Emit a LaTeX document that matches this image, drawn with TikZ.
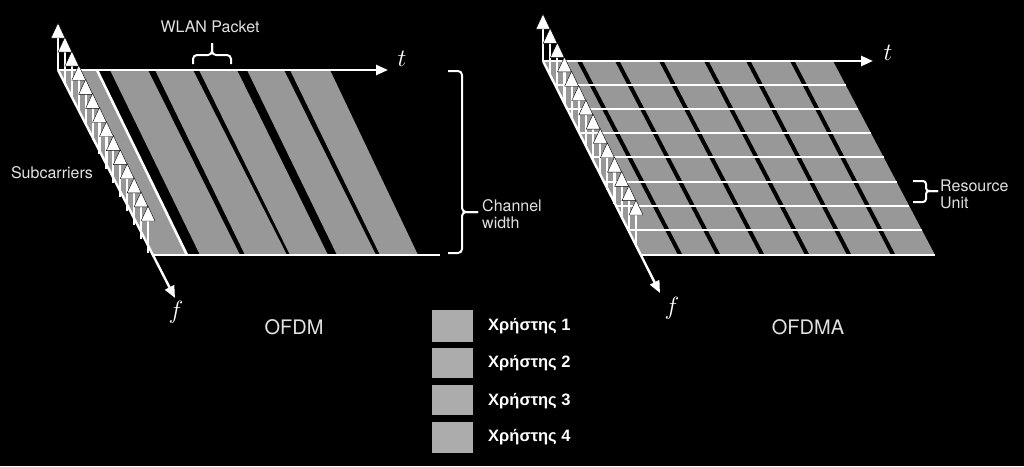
\documentclass[tikz,border=0pt]{standalone}
\usepackage{fontspec}
\setsansfont{TeX Gyre Heros}
\newfontfamily\legfont{Liberation Sans}
\usetikzlibrary{arrows.meta,calc}
\definecolor{bandgray}{RGB}{152,152,152}
\definecolor{leggray}{RGB}{172,172,172}
\definecolor{labgray}{RGB}{225,225,225}
\begin{document}
\begin{tikzpicture}[x=1pt,y=-1pt,
 axis/.style={white,line width=2.4pt,-{Triangle[width=10pt,length=12pt]}},
 wline/.style={white,line width=2.6pt},
 band/.style={fill=bandgray},
 stripe/.style={fill=black},
 lab/.style={text=labgray,font=\sffamily\fontsize{16}{18}\selectfont,inner sep=0pt},
 bigl/.style={text=labgray,font=\sffamily\fontsize{20}{22}\selectfont,inner sep=0pt},
 mathl/.style={text=white,font=\fontsize{28}{30}\selectfont,inner sep=0pt},
 brace/.style={white,line width=2pt,rounded corners=4pt},
 leg/.style={text=white,font=\legfont\bfseries\fontsize{16.5}{18}\selectfont,anchor=west,inner sep=0pt},
 sq/.style={fill=leggray},
 scshaft/.style={white,line width=2.2pt},
 schead/.style={fill=white,draw=black,line width=0.4pt}]
\fill[black] (0,0) rectangle (1024,466);
\useasboundingbox (0,0) rectangle (1024,466);

% ---------------- OFDM (left) ----------------
\coordinate (O1) at (58,70);
\coordinate (T1) at (388,70);
\coordinate (F1) at (175,298);
\coordinate (BL1) at (152,255);
\coordinate (BR1) at (440,255);
\fill[band] (58,70) -- (97,70) -- (187,255) -- (152,255) -- cycle;
\fill[band] (110,70) -- (148,70) -- (240,255) -- (200,255) -- cycle;
\fill[band] (155,70) -- (193,70) -- (287,255) -- (245,255) -- cycle;
\fill[band] (199,70) -- (237,70) -- (328,255) -- (290,255) -- cycle;
\fill[band] (247,70) -- (284,70) -- (376,255) -- (337,255) -- cycle;
\fill[band] (290,70) -- (330,70) -- (418,255) -- (380,255) -- cycle;
\coordinate (W1a) at (97,70);
\coordinate (W1b) at (187,255);
\draw[wline] (W1a) -- (W1b);
\draw[wline] (BL1) -- (BR1);
\draw[axis] (O1) -- (T1);
\draw[axis] (O1) -- (F1);
\foreach \k in {0,...,13} {
  \pgfmathsetmacro\bx{58+\k*90/13}
  \pgfmathsetmacro\by{70+\k*183/13}
  \draw[scshaft] (\bx,\by) -- (\bx,\by-33);
  \filldraw[schead] (\bx-7,\by-32) -- (\bx,\by-47) -- (\bx+7,\by-32) -- cycle;
}
\node[mathl] (tl) at (402,59) {$t$};
\node[mathl] (fl) at (176,312) {$f$};
\node[lab] (wlan) at (210,27) {WLAN Packet};
\node[lab] (subc) at (52,173) {Subcarriers};
\draw[brace] (193,64) -- (193,55) -- (212,55) -- (212,43);
\draw[brace] (231,64) -- (231,55) -- (212,55) -- (212,43);
\draw[brace] (448,71) -- (462,71) -- (462,212) -- (478,212);
\draw[brace] (448,253) -- (462,253) -- (462,212) -- (478,212);
\node[lab,anchor=west,align=left] (chw) at (482,214) {Channel\\[-1pt]width};
\node[bigl] (ofdm) at (294,327) {OFDM};

% ---------------- OFDMA (right) ----------------
\coordinate (O2) at (543,61);
\coordinate (T2) at (873,61);
\coordinate (F2) at (660,293);
\fill[band] (543,61) -- (833,61) -- (935,255) -- (640,255) -- cycle;
\foreach \c in {579,617,661,706,748,792} {
  \fill[stripe] (\c-2,61) -- (\c+2.5,61) -- (\c+103.5,255) -- (\c+99,255) -- cycle;
}
\foreach \yy in {85,109,133,157,182,206,230,255} {
  \draw[wline] ({543+0.5*(\yy-61)},\yy) -- ({833+0.526*(\yy-61)},\yy);
}
\draw[axis] (O2) -- (T2);
\draw[axis] (O2) -- (F2);
\foreach \k in {0,...,13} {
  \pgfmathsetmacro\bx{543+\k*93/13}
  \pgfmathsetmacro\by{61+\k*186/13}
  \draw[scshaft] (\bx,\by) -- (\bx,\by-33);
  \filldraw[schead] (\bx-7,\by-32) -- (\bx,\by-47) -- (\bx+7,\by-32) -- cycle;
}
\node[mathl] (tr) at (888,53) {$t$};
\node[mathl] (fr) at (672,308) {$f$};
\draw[brace,rounded corners=3pt] (913,181) -- (926,181) -- (926,191) -- (938,191);
\draw[brace,rounded corners=3pt] (913,202) -- (926,202) -- (926,191) -- (938,191);
\node[lab,anchor=west,align=left] (ru) at (940,194) {Resource\\[-1pt]Unit};
\node[bigl] (ofdma) at (808,327) {OFDMA};

% ---------------- legend ----------------
\fill[sq] (432,310) rectangle (473,342);
\fill[sq] (432,348) rectangle (473,378);
\fill[sq] (432,385) rectangle (473,415);
\fill[sq] (432,422) rectangle (473,453);
\node[leg] (u1) at (488,326) {Χρήστης 1};
\node[leg] (u2) at (488,363) {Χρήστης 2};
\node[leg] (u3) at (488,401) {Χρήστης 3};
\node[leg] (u4) at (488,437) {Χρήστης 4};
\end{tikzpicture}
\end{document}
